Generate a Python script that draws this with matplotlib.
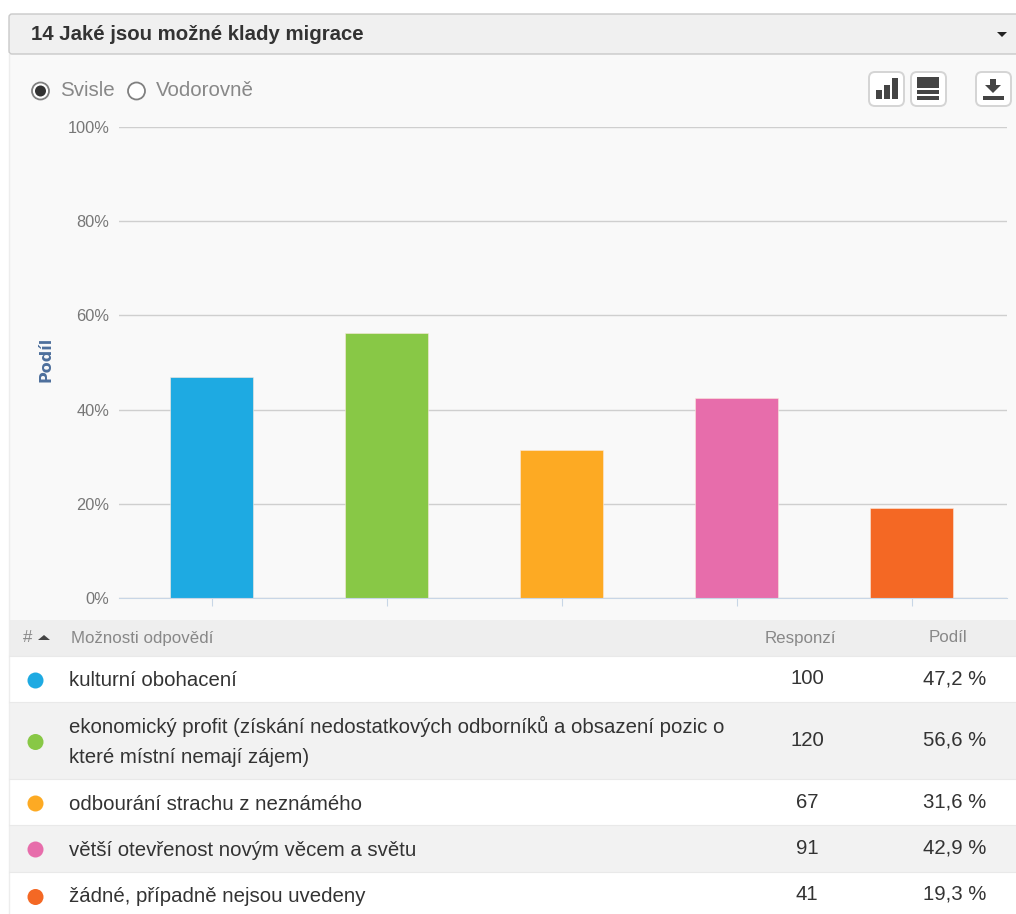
import matplotlib
matplotlib.use('Agg')
import matplotlib.pyplot as plt
from matplotlib.patches import Rectangle, FancyBboxPatch, Circle, Polygon

plt.rcParams['font.family'] = ['Liberation Sans', 'DejaVu Sans']

title = '14 Jaké jsou možné klady migrace'
answers = ['kulturní obohacení',
           'ekonomický profit (získání nedostatkových odborníků a obsazení pozic o\nkteré místní nemají zájem)',
           'odbourání strachu z neznámého',
           'větší otevřenost novým věcem a světu',
           'žádné, případně nejsou uvedeny']
responses = [100, 120, 67, 91, 41]
share_labels = ['47,2 %', '56,6 %', '31,6 %', '42,9 %', '19,3 %']
# bar heights
bar_heights = [47.0, 56.3, 31.4, 42.5, 19.1]
colors = ['#1eaae2', '#88c846', '#fdaa23', '#e76dab', '#f46824']
y_ticks = [0, 20, 40, 60, 80, 100]

W, H = 1016, 914
fig = plt.figure(figsize=(W / 100, H / 100), dpi=100, facecolor='white')

# page layer in pixel coordinates
bg = fig.add_axes([0, 0, 1, 1])
bg.set_xlim(0, W)
bg.set_ylim(H, 0)
bg.axis('off')

# panel and header
bg.add_patch(Rectangle((9, 54), W - 9, 566, fc='#f9f9f9', ec='none'))
bg.plot([8.5, 8.5], [54, 914], color='#ededed', lw=1)
bg.add_patch(FancyBboxPatch((9, 14), W + 20, 40, boxstyle='round,pad=0,rounding_size=3',
                            fc='#f0f0f0', ec='#c9c9c9', lw=1))
bg.text(31, 34, title, fontsize=14.65, fontweight='bold', color='#333333', va='center')
bg.add_patch(Polygon([[997, 32], [1007, 32], [1002, 37]], fc='#222222', ec='none'))

# radio buttons
bg.add_patch(Circle((40.5, 91), 8.5, fc='white', ec='#808080', lw=1.3))
bg.add_patch(Circle((40.5, 91), 5.5, fc='#333333', ec='none'))
bg.text(60, 91, 'Svisle', fontsize=14.8, color='#888888', va='center')
bg.add_patch(Circle((136.5, 91), 8.5, fc='white', ec='#808080', lw=1.3))
bg.text(156, 91, 'Vodorovně', fontsize=14.8, color='#888888', va='center')

# toolbar buttons
for x0 in [869, 911, 976]:
    bg.add_patch(FancyBboxPatch((x0, 72), 35, 34, boxstyle='round,pad=0,rounding_size=6',
                                fc='white', ec='#d4d4d4', lw=1.4))
for x0, y0 in [(876, 90), (884, 85), (892, 78)]:
    bg.add_patch(Rectangle((x0, y0), 5.5, 99 - y0, fc='#444444', ec='none'))
for y0, h in [(77, 11), (90, 4), (96, 4)]:
    bg.add_patch(Rectangle((917, y0), 22, h, fc='#444444', ec='none'))
bg.add_patch(Polygon([[990, 79], [996, 79], [996, 85], [1001, 85], [993, 93], [985, 85], [990, 85]],
                     fc='#444444', ec='none'))
bg.add_patch(Rectangle((983, 96), 21, 3.5, fc='#444444', ec='none'))

# table
bg.add_patch(Rectangle((9, 620), W - 9, 36, fc='#eeeeee', ec='none'))
bg.text(23, 638, '#', fontsize=12.2, color='#888888', va='center')
bg.add_patch(Polygon([[38, 640], [50, 640], [44, 635]], fc='#444444', ec='none'))
bg.text(71, 638, 'Možnosti odpovědí', fontsize=12.2, color='#888888', va='center')
bg.text(800, 638, 'Responzí', fontsize=12.2, color='#888888', va='center', ha='center')
bg.text(948, 638, 'Podíl', fontsize=12.2, color='#888888', va='center', ha='center')

row_edges = [656, 702, 779, 825, 872, 914]
row_fill = ['white', '#f2f2f2', 'white', '#f2f2f2', 'white']
text_mid = [680, 741.5, 804.5, 850.5, 897]
value_mid = [679, 740, 802, 848, 894]
dot_mid = [680.5, 742, 803.5, 849.5, 897]
for i in range(len(answers)):
    top, bottom = row_edges[i], row_edges[i + 1]
    bg.add_patch(Rectangle((9, top), W - 9, bottom - top, fc=row_fill[i], ec='none', zorder=1))
    bg.plot([9, W], [top, top], color='#e9e9e9', lw=0.8, zorder=2)
    bg.add_patch(Circle((35.5, dot_mid[i]), 8, fc=colors[i], ec='none', zorder=3))
    bg.text(69, text_mid[i], answers[i], fontsize=14.7, color='#333333', va='center', linespacing=1.72, zorder=3)
    bg.text(807, value_mid[i], str(responses[i]), fontsize=14.7, color='#333333', va='center', ha='center', zorder=3)
    bg.text(954.5, value_mid[i], share_labels[i], fontsize=14.7, color='#333333', va='center', ha='center', zorder=3)

# chart
ax = fig.add_axes([119 / W, 1 - 597.7 / H, (1007 - 119) / W, (597.7 - 127.3) / H])
ax.patch.set_alpha(0)
ax.bar(range(len(bar_heights)), bar_heights, width=0.478, color=colors, edgecolor='#fbe9dd', linewidth=0.4, zorder=3)
ax.set_xlim(-0.529, 4.545)
ax.set_ylim(0, 100)
ax.set_yticks(y_ticks)
ax.set_yticklabels([f'{v}%' for v in y_ticks], fontsize=11.8, color='#777777')
ax.set_xticks(range(len(bar_heights)))
ax.set_xticklabels([])
ax.grid(axis='y', color='#cfcfcf', lw=1, zorder=0)
ax.tick_params(axis='y', length=0, pad=7)
ax.tick_params(axis='x', length=6, color='#c8d6e6', direction='out')
for side in ['top', 'left', 'right']:
    ax.spines[side].set_visible(False)
ax.spines['bottom'].set_color('#c8d6e6')
ax.spines['bottom'].set_zorder(4)
fig.text(45.5 / W, 1 - 359 / H, 'Podíl', rotation=90, fontsize=11.5, fontweight='bold',
         family=['DejaVu Sans'], color='#4d6f9c', va='center', ha='center')

fig.savefig('out.png', dpi=100)
